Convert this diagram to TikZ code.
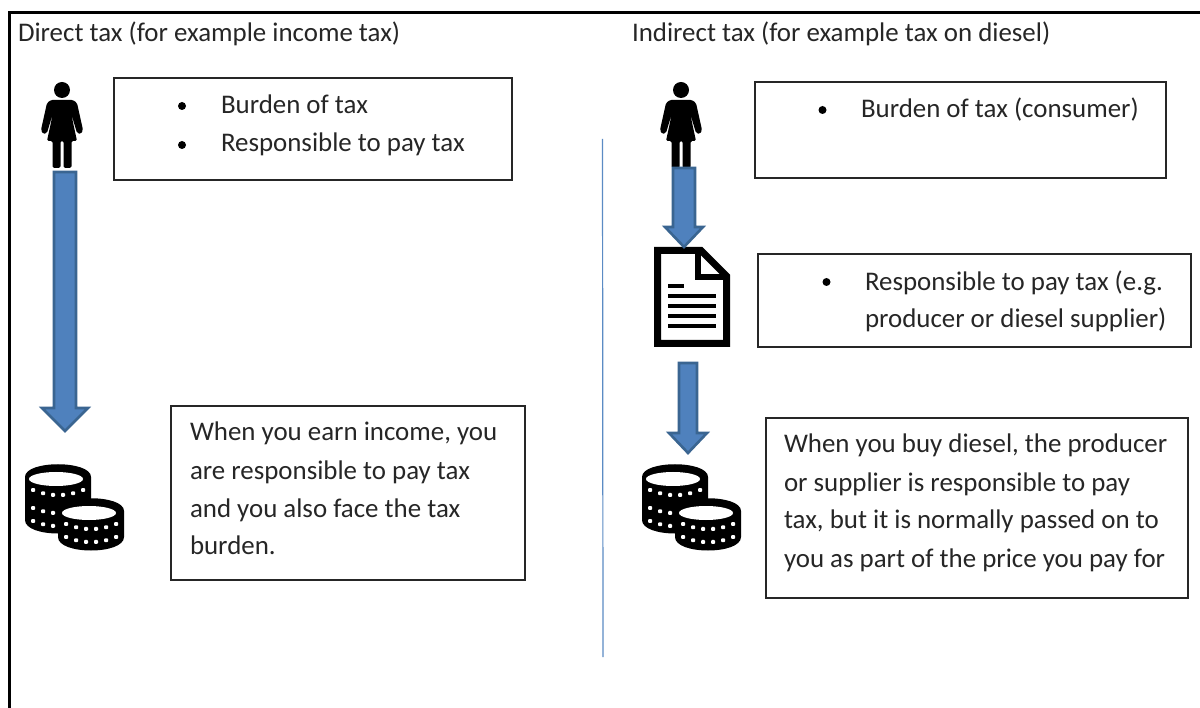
\documentclass[tikz,border=0pt]{standalone}
\usepackage{fontspec}
\setmainfont{Carlito}
\usetikzlibrary{calc}
\definecolor{arrowfill}{HTML}{4F81BD}
\definecolor{arrowline}{HTML}{3A6591}
\definecolor{divider}{HTML}{5B8BC4}
\tikzset{
  x=1pt,y=-1pt,
  every node/.style={font=\fontsize{26.9}{27}\selectfont,text=black!85,inner sep=0pt,outer sep=0pt},
  label text/.style={anchor=base west},
  textbox/.style={draw=black!85,line width=1.2pt,fill=white},
  frameline/.style={draw=black,line width=2.2pt},
  blockarrow/.style={fill=arrowfill,draw=arrowline,line width=2.6pt,line join=miter},
  bulletdot/.style={circle,fill=black,minimum size=8pt},
  pics/woman/.style={code={
    \fill[black] (0,-35) circle (8);
    \fill[black,rounded corners=1.5pt] (-11,-25) -- (11,-25) -- (15,-22) -- (21,5) -- (19,9) -- (15,8) -- (9,-12) -- (15,16) -- (9.5,16) -- (9.5,43) -- (1.5,43) -- (1.5,16) -- (-1.5,16) -- (-1.5,43) -- (-9.5,43) -- (-9.5,16) -- (-15,16) -- (-9,-12) -- (-15,8) -- (-19,9) -- (-21,5) -- (-15,-22) -- cycle;
  }},
  pics/coinstack/.style n args={2}{code={
    \fill[black] (-33,-2) .. controls (-33,-19) and (33,-19) .. (33,-2) -- (33,#1-14) .. controls (33,#1+4) and (-33,#1+4) .. (-33,#1-14) -- cycle;
    \fill[white] (-2,0) ellipse (27 and 7);
    \foreach \r in {#2} {
      \foreach \a in {-25,-15,-5,5,15,25} {
        \fill[white,rounded corners=0.8pt] ({\a-1.8},{\r-1.8-6*(\a*\a)/729}) rectangle +(3.8,3.8);
      }
    }
  }},
  pics/document/.style={code={
    \draw[black,line width=7pt,line join=miter] (-34.5,-46.5) -- (9,-46.5) -- (34.5,-21) -- (34.5,46.5) -- (-34.5,46.5) -- cycle;
    \draw[black,line width=6pt,line join=miter] (6,-46.5) -- (6,-20) -- (34.5,-20);
    \fill[black] (-24,-13) rectangle (-8,-9);
    \foreach \y in {-3,7,17,27} {\fill[black] (-24,\y) rectangle (24,\y+4);}
  }},
}
\newcommand{\blockarr}[5]{% from, to, half shaft, half head, head length
  \draw[blockarrow] ($(#1)+(-#3,0)$) -- ($(#1)+(#3,0)$) -- ($(#2)+(#3,-#5)$) -- ($(#2)+(#4,-#5)$) -- (#2) -- ($(#2)+(-#4,-#5)$) -- ($(#2)+(-#3,-#5)$) -- cycle;}
\begin{document}
\begin{tikzpicture}
\useasboundingbox (0,0) rectangle (1200,708);
\fill[white] (0,0) rectangle (1200,708);
\coordinate (frameA) at (9.5,708);
\coordinate (frameB) at (9.5,12.5);
\coordinate (frameC) at (1200,12.5);
\draw[frameline] (frameA) -- (frameB) -- (frameC);

\node[label text] (titleL) at (18,42) {Direct tax (for example income tax)};
\node[label text] (titleR) at (632,42) {Indirect tax (for example tax on diesel)};

\coordinate (divT) at (602.5,139);
\coordinate (divB) at (603,657);
\draw[divider,line width=1.2pt] (divT) -- (divB);

% boxes
\node[textbox,minimum width=398pt,minimum height=102pt] (boxA) at (313,129) {};
\node[textbox,minimum width=411pt,minimum height=96pt] (boxB) at (960.5,130) {};
\node[textbox,minimum width=433pt,minimum height=93pt] (boxC) at (974.5,300.5) {};
\node[textbox,minimum width=354pt,minimum height=174pt] (boxD) at (348,493) {};
\node[textbox,minimum width=422pt,minimum height=180pt] (boxE) at (977,508) {};

\node[bulletdot] (bA1) at (182,106) {};
\node[bulletdot] (bA2) at (182,145) {};
\node[label text] (tA1) at (221,114) {Burden of tax};
\node[label text] (tA2) at (221,152) {Responsible to pay tax};
\node[bulletdot] (bB1) at (822.5,110) {};
\node[label text] (tB1) at (861,118) {Burden of tax (consumer)};
\node[bulletdot] (bC1) at (826.5,282) {};
\node[label text] (tC1) at (865,291) {Responsible to pay tax (e.g.};
\node[label text] (tC2) at (865,328) {producer or diesel supplier)};

\node[label text] (tD1) at (190,441) {When you earn income, you};
\node[label text] (tD2) at (190,479) {are responsible to pay tax};
\node[label text] (tD3) at (190,517) {and you also face the tax};
\node[label text] (tD4) at (190,554) {burden.};
\node[label text] (tE1) at (784,453) {When you buy diesel, the producer};
\node[label text] (tE2) at (784,491) {or supplier is responsible to pay};
\node[label text] (tE3) at (784,529) {tax, but it is normally passed on to};
\node[label text] (tE4) at (784,567) {you as part of the price you pay for};

% icons
\coordinate (womanL) at (62,125);
\coordinate (womanR) at (681,125);
\pic at (womanL) {woman};
\pic at (womanR) {woman};
\coordinate (docI) at (692,297);
\pic at (docI) {document};
\coordinate (coinsL1) at (58,479);
\coordinate (coinsL2) at (91,513);
\pic at (coinsL1) {coinstack={55}{16,34,47}};
\pic at (coinsL2) {coinstack={38}{16,29}};
\coordinate (coinsR1) at (675,479);
\coordinate (coinsR2) at (708,513);
\pic at (coinsR1) {coinstack={55}{16,34,47}};
\pic at (coinsR2) {coinstack={38}{16,29}};

\coordinate (a1s) at (65,172);
\coordinate (a1e) at (65,431);
\coordinate (a2s) at (684,168);
\coordinate (a2e) at (684,247);
\coordinate (a3s) at (688,363);
\coordinate (a3e) at (688,453);
\blockarr{a1s}{a1e}{11}{23}{23}
\blockarr{a2s}{a2e}{11}{19}{20}
\blockarr{a3s}{a3e}{9}{19}{20}
\end{tikzpicture}
\end{document}
